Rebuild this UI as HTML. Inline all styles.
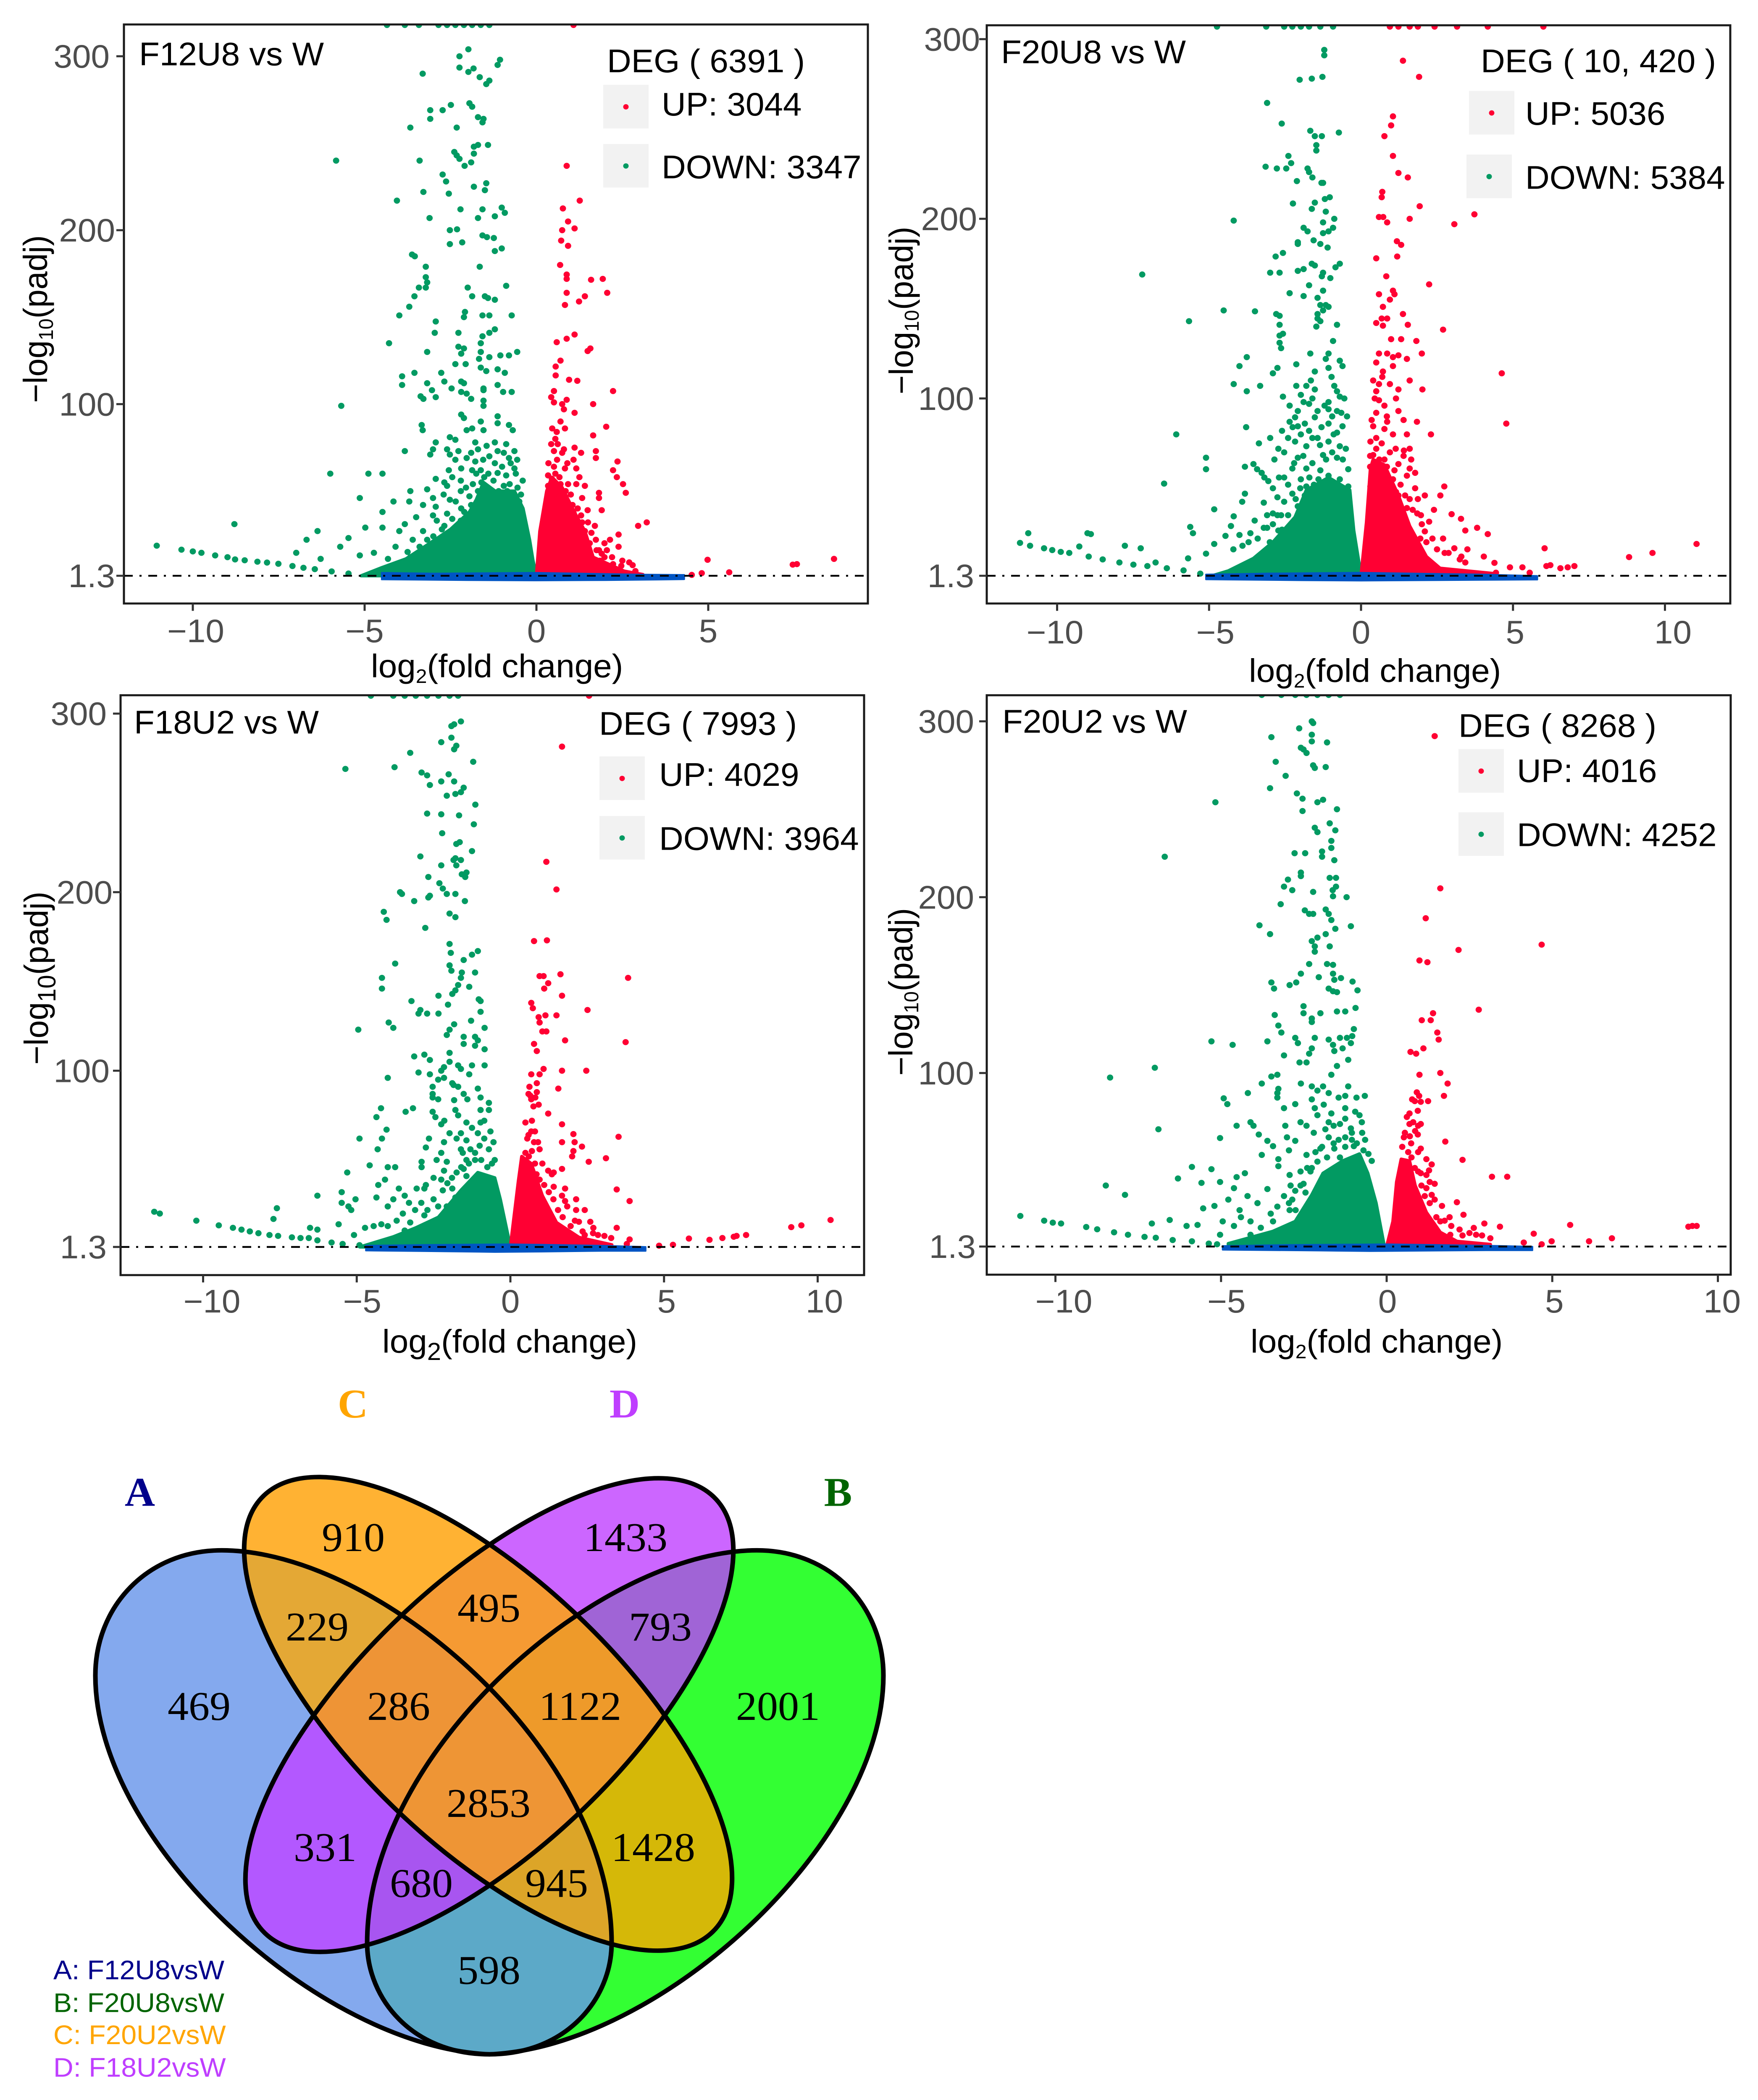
<!DOCTYPE html>
<html lang="en">
<head>
<meta charset="utf-8">
<title>Volcano plots and Venn diagram of DEGs</title>
<style>
html,body{margin:0;padding:0;background:#fff;}
svg{display:block;width:4185px;height:clamp(4500px,100vh,5150px);}
text{font-family:"Liberation Sans",sans-serif;}
.venn-n{font-family:"Liberation Serif",serif;font-size:100px;text-anchor:middle;fill:#000;}
.venn-l{font-family:"Liberation Serif",serif;font-size:100px;font-weight:bold;text-anchor:middle;}
.venn-k{font-size:66px;}
</style>
</head>
<body>
<svg id="figure" xmlns="http://www.w3.org/2000/svg" width="4185" height="5150" viewBox="0 0 4185 5150" preserveAspectRatio="none">
<rect width="4185" height="5150" fill="#fff"/>
<defs>
<path id="vA" d="M1165 5038C760 5020 227 4520 227 4109C227 3940 350 3802 528 3802C900 3802 1456 4290 1456 4765C1456 4900 1350 5038 1165 5038Z"/>
<path id="vB" d="M1165 5038C1570 5020 2103 4520 2103 4109C2103 3940 1980 3802 1802 3802C1430 3802 874 4290 874 4765C874 4900 980 5038 1165 5038Z"/>
<ellipse id="vC" cx="1162" cy="4203" rx="756" ry="321" transform="rotate(45 1162 4203)"/>
<ellipse id="vD" cx="1165" cy="4206" rx="756" ry="321" transform="rotate(-45 1165 4206)"/>
<clipPath id="cA"><use href="#vA"/></clipPath>
<clipPath id="cB"><use href="#vB"/></clipPath>
<clipPath id="cC"><use href="#vC"/></clipPath>
<clipPath id="cD"><use href="#vD"/></clipPath>
</defs>
<g id="panels"></g>

<g>
  <use href="#vA" fill="#84A9EE"/>
  <use href="#vB" fill="#33FF33"/>
  <use href="#vC" fill="#FFB233"/>
  <use href="#vD" fill="#CC66FF"/>
  <g clip-path="url(#cA)"><use href="#vB" fill="#5CA9C8"/></g>
  <g clip-path="url(#cA)"><use href="#vC" fill="#E4A835"/></g>
  <g clip-path="url(#cA)"><use href="#vD" fill="#B358FF"/></g>
  <g clip-path="url(#cB)"><use href="#vC" fill="#D5B808"/></g>
  <g clip-path="url(#cB)"><use href="#vD" fill="#A064D6"/></g>
  <g clip-path="url(#cC)"><use href="#vD" fill="#F59A33"/></g>
  <g clip-path="url(#cA)"><g clip-path="url(#cB)"><use href="#vC" fill="#DCA528"/></g></g>
  <g clip-path="url(#cA)"><g clip-path="url(#cB)"><use href="#vD" fill="#A855F0"/></g></g>
  <g clip-path="url(#cA)"><g clip-path="url(#cC)"><use href="#vD" fill="#EE9436"/></g></g>
  <g clip-path="url(#cB)"><g clip-path="url(#cC)"><use href="#vD" fill="#EE9A2A"/></g></g>
  <g clip-path="url(#cA)"><g clip-path="url(#cB)"><g clip-path="url(#cC)"><use href="#vD" fill="#EE9535"/></g></g></g>
  <g fill="none" stroke="#000" stroke-width="11">
    <use href="#vA"/><use href="#vB"/><use href="#vC"/><use href="#vD"/>
  </g>
  <text class="venn-n" x="841" y="3804">910</text>
  <text class="venn-n" x="1489" y="3804">1433</text>
  <text class="venn-n" x="755" y="4023">229</text>
  <text class="venn-n" x="1164" y="3977">495</text>
  <text class="venn-n" x="1572" y="4023">793</text>
  <text class="venn-n" x="474" y="4218">469</text>
  <text class="venn-n" x="949" y="4218">286</text>
  <text class="venn-n" x="1381" y="4218">1122</text>
  <text class="venn-n" x="1852" y="4218">2001</text>
  <text class="venn-n" x="1163" y="4456">2853</text>
  <text class="venn-n" x="774" y="4564">331</text>
  <text class="venn-n" x="1555" y="4564">1428</text>
  <text class="venn-n" x="1003" y="4652">680</text>
  <text class="venn-n" x="1325" y="4652">945</text>
  <text class="venn-n" x="1164" y="4865">598</text>
  <text class="venn-l" x="333" y="3693" fill="#00008B">A</text>
  <text class="venn-l" x="1995" y="3693" fill="#006400">B</text>
  <text class="venn-l" x="840" y="3476" fill="#FFA500">C</text>
  <text class="venn-l" x="1487" y="3476" fill="#BF3EFF">D</text>
  <text class="venn-k" x="127" y="4854" fill="#00008B">A: F12U8vsW</text>
  <text class="venn-k" x="127" y="4934" fill="#006400">B: F20U8vsW</text>
  <text class="venn-k" x="127" y="5013" fill="#FFA500">C: F20U2vsW</text>
  <text class="venn-k" x="127" y="5093" fill="#BF3EFF">D: F18U2vsW</text>
</g>
</svg>

<script>
// ---------- shared axis tick values ----------
const xTicksShort = [-10, -5, 0, 5];
const xTicksLong = [-10, -5, 0, 5, 10];
const yTicks = [1.3, 100, 200, 300];
const yTickLabels = ["1.3", "100", "200", "300"];

// ---------- F12U8 vs W ----------
const f12u8Down = [[-4.35,318],[-3.83,318],[-3.42,318],[-2.85,318],[-2.6,318],[-2.36,318],[-2.11,318],[-1.87,318],[-1.62,318],[-1.37,318],
[-1.98,304],[-2.24,300],[-1.06,298],[-1.13,295],[-2.24,293.5],[-1.83,293],[-1.98,291],[-3.31,290],[-1.65,288],[-1.37,286],[-1.46,284],[-3.09,269],[-2.49,272],[-2.73,269],[-1.95,273],[-1.87,271],[-1.7,265],[-1.54,264],[-3.09,264],[-1.57,262],[-3.67,259],[-2.32,259],[-1.7,249],[-1.41,249],[-1.82,248],[-2.39,245],[-2.32,243],[-1.82,244],[-2.24,241],[-3.4,240],[-5.83,240],[-1.9,239],[-2.09,237],[-2.73,232],[-2.63,228],[-1.46,227],[-1.82,225],[-1.5,223],[-3.29,222],[-2.55,221],[-4.06,217],[-2.21,212],[-1.57,212],[-1.01,213],[-.92,210],[-1.21,208],[-1.7,207],[-3.11,207],[-2.52,200],[-2.31,200.5],[-1.57,197],[-1.44,196],[-1.24,195.5],[-2.16,193],[-2.52,192],[-1.01,189.5],[-1.21,188],[-3.62,186],[-3.54,185],[-1.65,179],[-3.22,179],[-3.22,173],[-3.18,170],[-3.42,167],[-3.22,167],[-2,167],[-.88,168],[-1.87,162],[-1.5,162],[-1.41,161],[-1.21,160],[-3.55,162],[-3.7,156],[-3.99,151],[-2.08,153],[-2.11,150],[-1.57,151],[-1.37,151],[-.72,151],[-2.93,147.5],[-2.96,141],[-2.27,141],[-1.21,143],[-1.37,141],[-1.57,139],[-4.29,135],[-1.62,135],[-2.27,133],[-2.11,132],[-3.18,130],[-1.62,130],[-2.19,129],[-.56,130],[-.8,128],[-1.05,128],[-2.36,123],[-2.06,123],[-1.67,126],[-1.37,127],[-1.46,119],[-1.13,120],[-1.62,121],[-.92,118],[-3.91,116],[-3.55,118],[-2.77,118],[-3.18,112],[-3.91,111],[-2.68,113],[-2.19,113],[-2.11,112],[-1.54,109],[-1.13,111],[-2.47,109],[-3.04,108],[-2.19,107],[-2.03,106],[-1.54,108],[-.97,107],[-.72,107],[-3.37,104.5],[-3.29,103],[-2.93,104],[-1.9,103],[-1.54,102],[-5.68,99],[-1.54,99],
[-2.19,94],[-2.11,92],[-1.13,93],[-3.34,88],[-3.31,85],[-1.62,90],[-1.13,89],[-.8,88],[-.69,85],[-1.54,85],[-2.03,85],[-1.87,86],[-2.52,81],[-2.93,78],[-2.36,79.5],[-1.78,78],[-1.21,78],[-.88,77],[-3.01,74],[-2.6,74],[-2.27,73],[-1.7,74],[-1.13,73],[-.64,73],[-3.83,73],[-3.09,71],[-2.52,71],[-2.03,69],[-1.37,70],[-.8,69],[-.56,68],[-2.36,68],[-1.78,67],[-1.21,66],[-.64,63],[-2.19,63],[-1.62,62],[-1.13,60.4],[-.88,59],[-1.87,62],[-4.89,60],[-4.48,60],[-6,60],[-2.93,57],[-2.68,55],[-3.18,51],[-2.6,53],[-3.67,50],[-3.01,46],[-5.14,46],[-4.16,44],[-3.7,44],[-2.93,41],[-2.52,45],[-4.48,38],[-2.19,40],[-3.01,36],[-3.5,35],[-3.99,27],[-4.48,29],[-4.98,29],[-8.79,31],[-6.37,27],[-5.47,23],[-6.69,22],[-5.71,18],[-3.83,31],[-2.68,30],[-2.52,26],[-3.18,22],[-2.85,17],[-4.73,14.5],[-5.14,13],[-6.99,14.5],[-6.28,11],[-4.32,11],[-3.67,12],[-3.34,13],
[-1.52,58],[-1.6,55],[-1.45,52],[-1.7,50],[-1.35,48],[-1.55,46],[-.78,54],[-.85,50],[-.7,48],[-1,46],[-.45,48],[-.5,44],[-.9,44],[-1.15,42],[-1.4,40],[-1.9,42],[-2.1,38],[-1.7,36],[-.6,36],
[-2.9,33],[-2.75,28],[-2.6,37],[-2.45,34],[-2.3,29],[-2.2,33],[-2.05,28],[-1.95,36],[-1.85,31],[-1.75,27],[-2.65,22],[-2.4,21],[-2.25,24],[-2,20],[-3.3,27],[-3.4,18],[-3.6,22],[-3.1,14],[-3.75,15],[-4.1,18],[-1.95,47],[-2.2,50],[-2.35,44],[-2.05,52],[-1.85,54],[-1.65,44],[-1.5,40],[-1.3,44],[-1.1,50],[-.95,53],[-.75,42],[-.55,52],[-.4,56],[-.6,60],[-1.25,56],[-1.4,60],[-1.75,60],[-2.45,58],[-2.2,56],[-1,64],[-.75,66],[-1.55,68],[-2.55,62],[-1.9,72],[-1.45,76],[-.95,72],[-2.7,48],[-3.3,42],[-3,24],[-2.8,20],
[-11.05,18.6],[-10.33,16.3],[-10,15.3],[-9.75,14.5],[-9.35,13],[-8.99,12],[-8.77,10.7],[-8.49,10.2],[-8.12,9.4],[-7.84,8.9],[-7.51,8.2],[-7.1,6.9],[-6.78,5.9],[-6.45,5.1],[-5.96,3.8],[-5.47,2.6]];
const f12u8Up = [[1.08,318],[.88,237],[1.26,217],[.77,212.5],[.92,205],[1.11,201],[.75,200],[.72,194],[.92,191],[.69,180],[.88,174.5],[.88,172],[1.59,171.5],[1.93,172],[1.41,162],[2.06,164],[.88,164],[1.24,159],[.83,157],[1.11,140],[.88,137.6],[.59,135.6],[1.49,130.5],[1.57,132],[.56,121.6],[.7,125],[.56,116.5],[.95,114],[1.19,113.4],[2.23,107.5],[.51,107.5],[.43,104],[.51,101],[.75,100],[.88,102.5],[.8,97],[1.65,100],[1.11,95],[2.03,87],[.46,86],[.83,86],[.59,84],[1.65,82],[.43,77],[.62,77],[1.11,75],[.51,73],[1.73,73],[.75,72],[1.08,68],[1.73,69],[2.36,67],[2.23,62],[.51,64],[.83,63],[1.16,63],[2.34,58],[2.52,54],[2.6,49],[.34,59],[.67,58],[.92,54],[1.16,54],[1.41,53],[1.82,49],[1.82,46],[.34,53],[.59,50],[1,48],[1.33,46],[.75,45],[1.49,39],[1.9,39],[1.08,37.5],[1.33,32],[3.21,32],[2.96,30],[2.39,25],[1.98,20],[1.73,22],[1.41,27],[2.14,22],[2.39,18],[1.82,16],[1.41,17],[1.57,12],[1.98,12],[2.47,7],[2.8,7.4],[2.88,4],[2.23,8],[8.66,11],[7.58,8],[7.46,7.7],[5.61,3.3],[4.98,10.5],[4.81,2.8],[4.52,1.8],
[.3,45],[.4,50],[.5,48],[.6,45],[.7,47],[.45,57],[.55,60],[.7,54],[.85,50],[.9,44],[1.05,42],[1.2,40],[1.3,36],[.95,33],[1.1,30],[1.25,26],[1.5,32],[1.6,26],[1.7,30],[1.55,20],[1.75,16],[1.9,14],[2.05,16],[1.3,20],[1.45,14],[2.2,12],[2.5,10],[2.7,9],[1.85,10],[.35,66],[.6,68],[.8,74],[.9,66],[1.25,58],[1.3,72],[.55,80],[.7,90]];
const f12u8DownDense = [[0,1.3],[-.1,10],[-.2,22],[-.39,40],[-.64,50],[-1.2,50],[-1.54,55],[-1.75,45],[-1.95,38],[-2.5,28],[-3.18,19],[-3.8,11],[-4.5,6],[-5.1,1.3]];
const f12u8UpDense = [[0,1.3],[.1,27],[.3,50],[.45,58],[.75,52],[1.1,38],[1.41,27],[1.65,12],[2.55,4],[3.1,2],[3.1,1.3]];
const f12u8NsBand = [[-4.5,3],[-4.5,-.8],[-2,-1.2],[0,-1.4],[2,-1.2],[3.5,-.9],[4.3,-.7],[4.3,1.8],[3,2],[0,3],[-3,2.6]];

// ---------- F20U8 vs W ----------
const f20u8Down = [[-4.74,307],[-3.12,307],[-2.53,307],[-2.26,307],[-1.98,307],[-1.71,307],[-1.34,307],[-.92,307],
[-1.21,294],[-1.21,291],[-1.27,279],[-1.62,278],[-2.02,277.4],[-3.09,264.5],[-2.61,253],[-1.67,249],[-1.52,246],[-1.29,246],[-.73,248],[-1.47,241],[-1.47,238],[-2.39,235],[-2.3,231],[-3.14,229],[-2.77,228],[-2.46,228],[-1.76,228],[-1.71,226],[-1.6,223],[-2.11,221],[-1.3,220],[-1.25,220],[-1.19,211],[-1.03,212],[-1.52,209],[-1.62,205.5],[-2.24,208.5],[-1.16,204],[-.88,200],[-4.19,199],[-1.25,198],[-.92,195],[-1.89,195],[-1.76,193],[-1.07,193],[-1.25,192],[-2.08,187],[-2.08,186],[-1.56,188],[-1.34,186],[-1.1,184],[-2.57,181],[-2.81,179],[-1.62,175],[-1.52,174],[-.7,175],[-.84,173],[-2.08,171],[-1.89,172],[-2.99,170],[-2.68,170],[-1.25,170],[-1.29,168],[-1.01,167],[-7.2,169],[-1.71,163],[-1.25,160],[-2.35,158.6],[-1.89,157],[-1.43,156],[-1.34,152],[-1.16,152],[-1.07,151],[-4.52,149],[-3.49,148.5],[-2.79,147],[-2.68,146],[-1.43,147],[-1.25,149],[-1.43,144.5],[-1.34,143],[-5.66,143],[-2.68,141],[-1.47,140],[-.79,141],[-2.68,135],[-2.57,136],[-.92,132],[-2.68,131],[-2.63,128],[-1.67,125],[-1.07,125],[-1.16,122],[-.7,121],[-.61,118],[-3.76,123],[-4,118],[-2.13,119],[-2.75,117],[-2.9,114],[-1.52,115],[-1.07,117],[-.97,112],[-1.65,110],[-1.8,107],[-4.19,108],[-3.32,107],[-2.13,107],[-.88,107],[-3.76,104],[-.79,104],[-2.57,101],[-1.52,105],[-1.98,102],[-.7,101],[-1.89,98],[-1.71,97],[-1.07,98],[-1.43,93],[-2.08,93],[-1.07,94],[-.79,93],[-.46,90],[-2.17,89.5],[-1.52,89.5],[-2.35,87],[-2.08,84.5],[-1.07,86],[-.61,84.5],[-3.78,84],[-1.71,82],[-.79,81],[-6.08,80],[-2.99,78],[-1.98,80],[-1.43,78],[-1.07,76],[-2.17,76],[-3.36,75],[-2.72,72],[-1.8,73.4],[-.7,73.4],[-5.1,67],[-2.53,70],[-2.08,67],[-1.25,68.5],[-.79,67],[-5.1,60.6],[-3.82,62],[-3.54,63.5],[-3.42,60.6],[-3.27,58.6],[-2.26,61],[-1.8,61],[-1.34,60],[-.42,60.6],[-6.48,52.6],[-3.18,56],[-2.53,56],[-1.98,55],[-1.07,57],[-.7,55],[-.42,51],[-1.8,51],[-2.26,47],[-1.52,46],[-3.82,47],[-3.91,42.5],[-2.75,45],[-2.53,42.5],[-4.83,38.3],[-2.9,36],[-2.63,35],[-2.08,40],[-4.19,34.4],[-3.09,35],[-4.28,29],[-5.62,28.5],[-5.53,25],[-3.09,28],[-3.64,25],[-4,24],[-4.46,23.5],[-2.72,26.5],[-4.83,19],[-10.95,25],[-9,25],[-8.89,24.5],[-9.27,17.6],[-7.77,18],[-7.25,16.6],[-5.1,13.6],[-5.69,11],[-6.76,8.7],
[-3.4,22],[-3.2,28],[-3,20],[-2.9,30],[-2.75,35],[-2.6,27],[-2.4,35],[-2.3,30],[-2.15,44],[-2,50],[-1.85,46],[-1.7,56],[-1.55,52],[-1.4,55],[-1.2,52],[-1,50],[-.85,48],[-.65,46],[-.5,44],[-2.4,52],[-2.7,56],[-2.9,50],[-3.2,42],[-3.5,32],[-3.7,20],[-3.9,18],[-4.2,16],[-1.6,64],[-1.9,68],[-2.2,64],[-1.15,66],[-.95,70],[-.6,66],[-.5,72],[-1.35,74],[-1.6,78],[-2.4,78],[-2.25,84],[-1.85,86],[-1.3,84],[-.9,80],[-.65,92],[-1.2,96],[-1.6,100],[-2.35,96],[-2.6,82],[-2.85,66],[-3.05,54],[-.95,90],[-.55,100],
[-11.22,19.6],[-10.89,18],[-10.43,16.6],[-10.16,15.6],[-9.88,14.6],[-9.6,14],[-8.96,12],[-8.5,10.4],[-7.95,8.7],[-7.49,7.5],[-7.03,6.7],[-6.39,5.5],[-5.84,4.3],[-5.29,2.5]];
const f20u8Up = [[.95,307],[1.23,307],[1.6,307],[1.87,307],[2.42,307],[3.16,307],[4.17,307],[6,307],
[1.38,288],[1.91,279],[1.05,257],[.99,252],[.77,246],[1.05,235],[1.23,225.5],[1.54,223],[.7,215],[.68,212],[1.93,207],[3.73,202.5],[.59,201],[.73,201],[.86,198],[1.6,200],[3.07,197],[1.18,187.5],[1.32,185.5],[.5,178],[1.19,179],[.83,168],[2.24,163.5],[.59,158],[1.05,160],[1.1,158],[.95,155],[.72,151],[1.38,147],[.68,144.5],[.5,142],[.72,140.5],[1.54,141],[.86,144.5],[2.7,138.3],[.99,133],[1.32,133],[1.82,132],[.59,125],[.86,125],[1.05,123],[1.23,124],[2,125],[1.51,122],[.5,120],[1.05,118],[.72,115],[4.63,114],[1.6,110],[.59,108],[.5,104],[1.23,105],[2.02,105],[.59,99],[.77,96],[1.23,93],[.5,92],[1.84,87],[.86,87],[4.78,86],[.4,84.5],[.77,83],[1.05,80],[1.51,80],[2.3,80],[.5,78],[.31,76],[.68,75],[1.14,72],[1.41,71],[.4,68.5],[.77,66],[1.23,63.5],[1.6,61],[.4,57],[.68,58.6],[1.51,57],[1.78,58.6],[1.05,55],[2.74,51],[1.78,50],[.68,50],[1.23,46],[2.61,46],[1.87,44],[.31,51],[1.51,39],[2.98,35.6],[1.97,35],[3.29,33],[3.43,26.5],[3.82,28],[4.17,24.5],[2.24,31.4],[2.7,22],[1.69,24],[2.15,20],[3.07,16.6],[2.88,14],[4.04,12],[6.04,16.6],[8.82,11.7],[9.59,14],[11.04,19],[6.1,6.7],[6.23,7.2],[6.56,5.5],[6.8,6],[7.02,6.7],[4.39,8.5],[3.43,8.7],[4.9,6],[5.31,6],[5.55,3],[3.25,10.4],[4.44,3],
[.3,62],[.45,64],[.6,66],[.85,62],[.5,72],[.95,70],[.3,68],[1.1,60],[1.3,52],[1.45,46],[1.6,44],[.9,52],[1.15,48],[1.7,38],[1.85,36],[2,30],[2.1,26],[1.95,22],[2.35,22],[2.5,16],[2.75,14],[3.3,12],[3.5,16],[1.4,68],[1.6,72],[.85,90],[1.4,88],[1.15,100],[.35,88],[.45,100],[.95,108],[.7,112],[.4,110],[1.65,66],[2.1,46],[2.4,38]];
const f20u8DownDense = [[0,1.3],[-.24,26.5],[-.37,49],[-1.07,56],[-1.8,49],[-2.17,34],[-2.9,20],[-3.54,11],[-4.37,4],[-4.9,1.3]];
const f20u8UpDense = [[0,1.3],[.18,31],[.31,61],[.4,66],[.77,63],[1.23,46],[1.6,29],[2.15,12],[2.6,5.5],[4.4,2.5],[4.4,1.3]];
const f20u8NsBand = [[-5.1,2],[-5.1,-.7],[-2,-1.2],[0,-1.4],[2,-1.2],[4,-1],[5.8,-.8],[5.8,1.2],[4,2],[0,3],[-3,2.6]];

// ---------- F18U2 vs W ----------
const f18u2Down = [[-4.54,310],[-3.81,310],[-3.44,310],[-3.08,310],[-2.71,310],[-2.34,310],[-1.98,310],[-1.7,310],
[-1.61,295.6],[-1.83,294],[-1.92,293],[-1.92,286.5],[-2.25,284],[-1.76,282],[-1.83,280],[-3.26,278],[-1.21,273],[-5.37,269],[-3.77,270],[-2.89,267],[-2.71,265.4],[-2.01,266],[-1.83,262],[-2.62,260],[-2.25,262],[-1.52,258.5],[-1.61,256],[-1.79,255],[-2.07,254],[-1.14,249],[-2.71,244],[-2.25,243.6],[-1.67,243],[-1.19,238],[-2.22,233],[-1.65,228],[-1.76,227],[-1.25,223],[-2.93,220],[-1.79,219],[-1.61,218],[-1.85,218],[-2.25,215],[-1.76,215],[-2.67,208.5],[-1.43,211],[-1.58,210],[-1.47,208.5],[-2.31,205],[-2.2,202],[-3.59,200],[-3.53,199],[-2.62,198],[-2.67,197],[-3.13,195],[-2.07,199],[-1.79,199],[-1.48,195],[-4.12,189],[-4.03,184.5],[-1.98,188],[-1.79,186],[-2.77,180],[-1.98,171],[-1.06,167],[-1.25,165],[-1.94,166],[-1.52,162],[-3.75,160],[-1.98,159],[-1.92,156],[-4.18,152],[-1.58,155],[-1.61,152],[-1.15,155],[-4.18,146],[-1.7,148],[-1.34,147],[-1.79,145],[-1.89,143],[-2.34,142],[-1.03,140],[-.97,139],[-3.22,139],[-2.03,137],[-2.93,134],[-2.99,132],[-2.71,132],[-2.34,132],[-.97,133],[-1.28,128],[-3.96,127],[-3.81,124],[-1.83,126],[-1.98,123],[-2.07,120],[-.84,124],[-4.95,123],[-1.15,119],[-1.52,119],[-1.06,117],[-1.52,115],[-1.15,114],[-.84,112],[-1.98,110],[-3.13,108],[-2.8,109],[-2.62,106],[-1.98,105],[-1.7,103],[-1.25,103],[-.84,103],[-2.16,102],[-2.99,99],[-2.62,98],[-2.25,100],[-1.61,101],[-1.34,98],[-3.99,96],[-2.16,96],[-1.89,93],[-2.53,91],[-1.7,91],[-1.06,90],[-2.53,87],[-1.52,87],[-.97,85],[-2.53,85],[-1.83,83.5],[-.7,82],[-4.21,79],[-3.41,77],[-3.17,79],[-2.53,77],[-1.79,78],[-.97,78],[-.7,78],[-2.44,74],[-1.7,75],[-4.36,74],[-2.25,70],[-1.43,71],[-.97,71],[-1.98,65],[-1.61,65],[-1.06,65],[-4.03,67],[-4.18,62],[-4.91,62],[-2.16,60],[-1.43,61],[-.55,60],[-4.32,56],[-2.75,57],[-2.25,54],[-1.61,56],[-1.15,54],[-.7,56],[-2.89,49],[-2.07,49],[-1.43,50],[-.51,50],[-4.58,47],[-3.99,46],[-3.75,46],[-2.89,46],[-5.31,43],[-2.16,44],[-1.52,45],[-1.43,41],[-4.08,39],[-2.25,39],[-4.3,36],[-3.63,34],[-2.8,34],[-5.49,32],[-1.89,34],[-6.28,30],[-3.44,30],[-3.81,28],[-1.79,29],[-5.49,26],[-5.04,28],[-4.36,29],[-7.6,23],[-11.59,21],[-11.41,20],[-10.22,16],[-5.27,24],[-5.18,22],[-3.99,24],[-2.07,24],[-7.71,17],[-5.59,14],[-2.8,19],[-3.26,15],[-3.99,13],[-4.45,13],[-4.73,12],[-6.52,12],[-6.28,11],[-5.09,8],[-2.8,13],[-3.44,10.5],
[-3.1,22],[-2.9,26],[-2.7,22],[-2.5,28],[-2.35,24],[-2.2,33],[-2.05,37],[-1.9,40],[-1.75,43],[-1.6,46],[-1.35,48],[-1.15,50],[-.95,50],[-.75,46],[-.6,48],[-2.5,40],[-2.75,36],[-3.5,20],[-3.7,16],[-4.2,14],[-1.55,54],[-1.3,56],[-1,58],[-.85,62],[-.65,66],[-1.75,62],[-2.4,50],[-2.65,62],[-1.25,68],[-.85,72],[-2.15,72],[-2.35,84],[-1.4,84],[-1.85,92],[-2.35,95],[-3.05,34],[-3.3,26],
[-9.49,13.4],[-9.03,12],[-8.75,11],[-8.48,10],[-8.2,9],[-7.84,8],[-7.56,7.5],[-7.11,6.7],[-6.83,6.3],[-6.56,6.3],[-6.28,5],[-5.82,3.8],[-5.46,3],[-4.91,2.3]];
const f18u2Up = [[2.56,310],[1.68,281.5],[1.17,217],[1.5,201.5],[.77,172.6],[1.19,173],[1.63,154],[.95,153],[1.08,153],[3.83,152],[1.23,149],[1.1,146],[1.68,142],[.68,138],[.73,135],[2.51,134],[1.5,131],[1.14,131],[.92,130],[.95,127],[1.04,122],[1.17,122],[1.78,117],[3.75,116],[.77,115],[.86,111],[1.08,101],[1.68,100],[2.47,100],[.68,98],[.95,98],[.86,93],[1.56,90],[.62,91],[.86,88],[.59,87],[.81,85],[.68,84],[.92,81],[1.23,76],[.49,71],[1.68,70],[.68,66],[.59,64],[2.05,64.5],[3.52,63],[.77,60],[1.68,60],[2.09,60],[2.33,57.5],[.95,56],[2.05,55],[2.01,52],[.49,54],[3.11,51],[2.55,49],[1.04,48],[1.68,45],[1.23,44],[1.41,43],[.95,39],[3.46,33.5],[1.41,35],[1.78,34],[2.14,28],[3.88,27],[1.78,27],[1.68,30],[2.42,22],[2.14,22],[2.23,15.4],[2.6,15.4],[3.46,12],[1.96,13],[2.42,8],[2.69,9],[3.06,7.5],[3.28,6.3],[3.88,5.5],[3.79,3],[10.42,16.4],[9.47,13.4],[9.14,12.4],[7.67,8],[7.36,7.5],[7.27,7],[6.9,6.3],[6.48,5.3],[5.81,6],[5.29,2.5],[4.84,2],
[.4,45],[.5,40],[.6,52],[.7,55],[.8,48],[.85,42],[.55,62],[.7,72],[.8,66],[1.1,36],[1.25,32],[1.4,28],[1.55,22],[1.85,24],[1.7,18],[2.1,16],[2.35,10],[2.7,12],[2.85,8],[1.9,9],[1.35,42],[.9,60],[.75,80],[.65,86]];
const f18u2DownDense = [[0,1.3],[-.33,28],[-.51,40],[-1.06,43],[-1.61,33],[-2.34,18],[-3.08,12],[-3.81,7],[-4.9,1.3]];
const f18u2UpDense = [[0,1.3],[.26,38],[.37,52],[.68,48],[1.04,30],[1.5,15],[2.23,6.7],[3.3,2.5],[3.3,1.3]];
const f18u2NsBand = [[-4.7,2],[-4.7,-.7],[-2,-1.2],[-.5,-1.5],[1,-1.3],[3,-.9],[4.4,-.9],[4.4,1.3],[3,2],[0,2.8],[-3,2.4]];

// ---------- F20U2 vs W ----------
const f20u2Down = [[-3.77,315],[-3.18,315],[-2.76,315],[-2.42,315],[-2.09,315],[-1.75,315],[-1.41,315],
[-2.26,300],[-2.22,299],[-2.64,296],[-2.26,292.4],[-3.48,291],[-2.26,288.6],[-1.8,288],[-2.59,285],[-2.51,284],[-2.42,282],[-3.35,277],[-2.22,275],[-2.17,273.5],[-1.84,274],[-3.05,269],[-3.52,262],[-5.17,254],[-2.71,259],[-2.54,256],[-1.92,255.4],[-2.09,254],[-2.54,249],[-1.5,250],[-1.72,242],[-2.17,239.5],[-2.09,237],[-1.55,238],[-1.67,232],[-1.67,228],[-2.78,225],[-2.46,225],[-1.95,226],[-1.95,223],[-6.7,223],[-1.58,221],[-2.59,214],[-2.59,212],[-2.98,210],[-1.53,211],[-1.72,211],[-3.1,206],[-2.85,204],[-2.22,203],[-1.53,206],[-1.63,204],[-1.62,200.5],[-1.21,200],[-3.2,196],[-2.47,192.5],[-1.84,193],[-2.22,190.5],[-2.34,190.5],[-1.75,190.5],[-1.67,187],[-3.84,184],[-1.08,183.5],[-1.55,182],[-3.52,179],[-1.84,179],[-2.09,177],[-2.26,175],[-1.72,172],[-2.17,172],[-2.17,169],[-2.34,162],[-1.8,162],[-1.62,161.5],[-2.59,156.5],[-2.05,154.5],[-1.62,156.5],[-1.58,153],[-1.38,154],[-1.03,152],[-3.48,151.5],[-3.4,148],[-2.93,150],[-2.73,151.5],[-.88,147],[-1.75,148],[-1.62,146.5],[-1.5,146],[-2.51,138],[-3.38,133],[-2,134],[-2.51,134],[-2.26,131],[-1.25,135],[-.94,137],[-1.5,135],[-2.26,129],[-3.27,127],[-.99,125],[-3.18,123],[-2.76,120],[-1.75,119],[-2.17,120],[-1.41,120],[-1.2,120],[-1.04,121],[-3.6,118],[-4.65,116],[-5.29,118],[-2.68,117],[-1.62,116],[-1.08,117],[-2.26,114],[-2.34,111],[-1.58,112.5],[-1.33,114],[-3.1,110],[-2.42,106],[-2.63,106],[-1.16,107.5],[-1.5,104],[-7,103],[-3.48,98],[-3.3,99],[-1.67,99],[-8.35,97.4],[-3.77,94],[-2.59,94],[-1.92,92.4],[-2.26,92.4],[-3.27,91],[-3.3,88.6],[-1.16,92.4],[-2.09,90],[-4.19,88.6],[-.66,87],[-.91,86],[-1.25,87],[-1.75,88.6],[-3.3,86],[-2.26,85],[-2.76,82.3],[-4.92,85.6],[-4.81,82.3],[-3.1,80],[-2.17,80],[-1.25,80],[-4.11,72],[-4.53,70],[-6.89,68],[-2.09,76],[-1.67,77],[-.82,76],[-2.42,70],[-1.75,72],[-1.41,71],[-1.08,68.5],[-4.02,70],[-3.06,70],[-5.03,63],[-3.86,65],[-3.01,63.4],[-2.76,61.4],[-3.6,61.4],[-1.75,63.4],[-1.25,63.4],[-.74,66],[-3.43,58.4],[-2,57],[-1.58,57],[-.99,58.4],[-3.77,53.4],[-2.42,53.4],[-3.27,51],[-3.27,47],[-2.09,49.6],[-1.41,52],[-5.88,46.6],[-5.29,45.3],[-2.26,46],[-4.28,43],[-4.53,40.8],[-6.3,40],[-5.03,38],[-5.59,37.5],[-2.93,42],[-2.51,37],[-8.48,36],[-7.9,30.7],[-4.61,34.5],[-2.76,33],[-2.85,28],[-4.78,28],[-5.2,24.4],[-5.54,23],[-4.44,22],[-2.93,22],[-6.55,16.4],[-7.09,14.4],[-6.04,13],[-5.71,13.6],[-4.11,15.6],[-3.43,15.6],[-4.95,15.6],[-4.61,13],[-5.03,8],[-4.11,8],
[-3.5,20],[-3.3,24],[-3.1,30],[-2.95,26],[-2.75,22],[-2.6,36],[-2.45,32],[-2.3,44],[-2.15,55],[-1.95,58],[-1.8,52],[-1.6,60],[-1.45,62],[-1.25,58],[-1.05,62],[-.9,60],[-.7,56],[-.55,54],[-.45,50],[-2.4,46],[-2.6,44],[-2.9,36],[-3.6,34],[-3.9,26],[-4.2,30],[-4.4,18],[-3.8,12],[-1.6,70],[-1.25,74],[-.95,78],[-.75,72],[-1.9,82],[-1.45,86],[-2.6,72],[-2.95,56],[-2.2,66],[-1.85,68],[-1.05,66],[-.65,62],
[-11.06,18.7],[-10.34,16],[-10.08,14.9],[-9.83,14.4],[-9.07,12.4],[-8.74,11.1],[-8.23,9.4],[-7.81,8],[-7.31,6.8],[-6.97,6.3],[-6.46,5],[-5.88,4.3],[-5.37,3],[-5.12,2.6]];
const f20u2Up = [[1.45,291.6],[1.62,205],[1.18,188],[4.68,173],[2.17,170],[.99,164],[1.23,163],[2.78,136],[1.4,134],[1.06,130],[1.33,130],[1.53,123],[1.57,119],[1.11,114],[.72,112],[.89,111],[1.62,100],[.99,99],[1.84,94],[.91,89],[.98,87],[1.73,87],[.77,85],[1.03,83.6],[1.25,84],[.69,77],[.61,75],[.94,78.5],[1.03,71],[.69,71],[.86,67],[.94,65],[.52,63.4],[1.77,61],[.74,60],[1.03,57],[.47,58],[1.2,51],[2.29,50.6],[1.36,48],[3.18,41],[3.64,41],[1.28,44.6],[1.03,43],[1.45,37],[1.2,34.5],[2.12,26.5],[1.36,30.7],[1.67,24.4],[1.62,15.6],[2.32,19.4],[2.95,14.4],[2.63,11.9],[3.42,12.6],[5.54,13.6],[4.44,8.6],[4.98,4.3],[6.11,4.3],[6.8,6],[9.11,12.6],[9.23,13],[9.36,13],[4.14,3.6],[4.68,2.6],[3.13,6],[2.88,7.6],[2.29,7.6],[1.92,8],
[.45,45],[.55,48],[.65,55],[.75,52],[.85,46],[.95,44],[.55,66],[.7,64],[.8,72],[.95,55],[1.05,36],[1.15,30],[1.3,26],[1.45,28],[1.5,18],[1.75,16],[1.9,18],[2.2,11],[2.5,9],[2.7,8],[1.95,13],[1.3,38],[1.2,42],[.85,84],[.95,70]];
const f20u2DownDense = [[-.07,1.3],[-.32,26],[-.57,43],[-.82,54],[-1.33,50],[-1.92,43],[-2.26,30.7],[-2.76,15.6],[-3.43,10],[-4.78,3],[-4.78,1.3]];
const f20u2UpDense = [[0,1.3],[.19,15.6],[.3,38],[.44,51],[.69,50],[.86,36],[1.2,20.7],[1.62,9.4],[2.12,4.3],[3.13,2.5],[3.13,1.3]];
const f20u2NsBand = [[-4.95,1.6],[-4.95,-.5],[-2,-1],[-.5,-1.3],[1,-1.1],[3,-.8],[4.4,-.8],[4.4,1.2],[3,1.8],[0,2.6],[-3,2.2]];

// ---------- panel layout ----------
const panels = [
 {id:"f12u8", title:"F12U8 vs W", deg:"DEG ( 6391 )", up:"UP: 3044", down:"DOWN: 3347",
  downPts:f12u8Down, upPts:f12u8Up, downDense:f12u8DownDense, upDense:f12u8UpDense, ns:f12u8NsBand, xTicks:xTicksShort,
  frame:[295,60,2066,1480], x0:1277, kx:81.8, y13:1412, y300:138,
  titlePos:[331,160], degPos:[1445,177], key1:[1436,208], key2:[1436,353], upPos:[1575,283], downPos:[1575,437],
  xDx:[7,0,0,0], xLabelY:1575, yRight:[274,274,274,261],
  xTitle:[883,1661], yTitle:[112,988], sub:0.6},
 {id:"f20u8", title:"F20U8 vs W", deg:"DEG ( 10, 420 )", up:"UP: 5036", down:"DOWN: 5384",
  downPts:f20u8Down, upPts:f20u8Up, downDense:f20u8DownDense, upDense:f20u8UpDense, ns:f20u8NsBand, xTicks:xTicksLong,
  frame:[2349,62,4119,1480], x0:3240, kx:72.35, y13:1412, y300:96,
  titlePos:[2383,155], degPos:[3525,177], key1:[3497,223], key2:[3491,379], upPos:[3631,306], downPos:[3631,463],
  xDx:[-5,15,0,5,19], xLabelY:1578, yRight:[2319,2319,2326,2333],
  xTitle:[2973,1672], yTitle:[2173,967], sub:0.6},
 {id:"f18u2", title:"F18U2 vs W", deg:"DEG ( 7993 )", up:"UP: 4029", down:"DOWN: 3964",
  downPts:f18u2Down, upPts:f18u2Up, downDense:f18u2DownDense, upDense:f18u2UpDense, ns:f18u2NsBand, xTicks:xTicksLong,
  frame:[287,1705,2057,3127], x0:1215, kx:73.15, y13:3058, y300:1750,
  titlePos:[319,1799], degPos:[1426,1802], key1:[1427,1855], key2:[1427,2001], upPos:[1569,1927], downPos:[1569,2084],
  xDx:[21,13,0,6,16], xLabelY:3219, yRight:[254,261,268,254],
  xTitle:[910,3317], yTitle:[114,2611], sub:0.75},
 {id:"f20u2", title:"F20U2 vs W", deg:"DEG ( 8268 )", up:"UP: 4016", down:"DOWN: 4252",
  downPts:f20u2Down, upPts:f20u2Up, downDense:f20u2DownDense, upDense:f20u2UpDense, ns:f20u2NsBand, xTicks:xTicksLong,
  frame:[2349,1705,4120,3126], x0:3301, kx:78.85, y13:3057, y300:1769,
  titlePos:[2386,1797], degPos:[3472,1807], key1:[3472,1837], key2:[3472,1992], upPos:[3611,1918], downPos:[3611,2075],
  xDx:[20,13,2,5,10], xLabelY:3219, yRight:[2323,2319,2319,2319],
  xTitle:[2977,3317], yTitle:[2172,2638], sub:0.6}
];

const GREEN = "#029A62", RED = "#FF0033", BLUE = "#0055C4";
const NS = "http://www.w3.org/2000/svg";
const root = document.getElementById("panels");

function make(parent, tag, attrs, txt) {
  const e = document.createElementNS(NS, tag);
  for (const k in attrs) e.setAttribute(k, attrs[k]);
  if (txt !== undefined) e.textContent = txt;
  parent.appendChild(e);
  return e;
}

panels.forEach(function (p) {
  const xScale = v => p.x0 + v * p.kx;
  const yScale = v => p.y13 - (v - 1.3) * (p.y13 - p.y300) / 298.7;
  const polyPts = arr => arr.map(d => xScale(d[0]).toFixed(1) + "," + yScale(d[1]).toFixed(1)).join(" ");
  const [L, T, R, B] = p.frame;

  const g = make(root, "g", {});
  
  

  const clip = make(g, "clipPath", {id: "clip-" + p.id});
  make(clip, "rect", {x: L, y: T, width: R - L, height: B - T});
  const plot = make(g, "g", {"clip-path": "url(#clip-" + p.id + ")"});
  
  

  const dDense = make(plot, "polygon", {points: polyPts(p.downDense), fill: GREEN, stroke: GREEN, "stroke-width": 8, "stroke-linejoin": "round"});
  
  
  const uDense = make(plot, "polygon", {points: polyPts(p.upDense), fill: RED, stroke: RED, "stroke-width": 8, "stroke-linejoin": "round"});
  
  

  p.downPts.forEach(function (d) {
    const c = make(plot, "circle", {cx: xScale(d[0]).toFixed(1), cy: yScale(d[1]).toFixed(1), r: 7.5, fill: GREEN});
    
    
  });
  p.upPts.forEach(function (d) {
    const c = make(plot, "circle", {cx: xScale(d[0]).toFixed(1), cy: yScale(d[1]).toFixed(1), r: 7.5, fill: RED});
    
    
  });

  const band = make(plot, "polygon", {points: polyPts(p.ns), fill: BLUE, stroke: BLUE, "stroke-width": 4, "stroke-linejoin": "round"});
  
  

  const th = make(plot, "line", {x1: L, x2: R, y1: yScale(1.3), y2: yScale(1.3), stroke: "#000", "stroke-width": 4.5, "stroke-dasharray": "21 16 5 16"});
  
  

  const fr = make(g, "rect", {x: L, y: T, width: R - L, height: B - T, fill: "none", stroke: "#1a1a1a", "stroke-width": 5});
  
  

  p.xTicks.forEach(function (v, i) {
    const t = make(g, "line", {x1: xScale(v), x2: xScale(v), y1: B, y2: B + 18, stroke: "#333", "stroke-width": 5});
    
    
    const lab = make(g, "text", {x: xScale(v) + p.xDx[i], y: p.xLabelY, "font-size": 80, fill: "#4D4D4D", "text-anchor": "middle"}, v < 0 ? "\u2212" + Math.abs(v) : String(v));
    
    
  });
  yTicks.forEach(function (v, i) {
    const t = make(g, "line", {x1: L - 18, x2: L, y1: yScale(v), y2: yScale(v), stroke: "#333", "stroke-width": 5});
    
    
    const lab = make(g, "text", {x: p.yRight[i], y: yScale(v) + 28, "font-size": 80, fill: "#4D4D4D", "text-anchor": "end"}, yTickLabels[i]);
    
    
  });

  const title = make(g, "text", {x: p.titlePos[0], y: p.titlePos[1], "font-size": 80, fill: "#000"}, p.title);
  
  

  const subSize = Math.round(80 * p.sub), subDy = Math.round(subSize * 0.3);

  const xt = make(g, "text", {x: p.xTitle[0], y: p.xTitle[1], "font-size": 80, fill: "#000"});
  
  
  make(xt, "tspan", {}, "log");
  make(xt, "tspan", {"font-size": subSize, dy: subDy}, "2");
  make(xt, "tspan", {dy: -subDy}, "(fold change)");

  const yt = make(g, "text", {x: p.yTitle[0], y: p.yTitle[1], "font-size": 80, fill: "#000", transform: "rotate(-90 " + p.yTitle[0] + " " + p.yTitle[1] + ")"});
  
  
  make(yt, "tspan", {}, "\u2212log");
  make(yt, "tspan", {"font-size": subSize, dy: subDy}, "10");
  make(yt, "tspan", {dy: -subDy}, "(padj)");

  const leg = make(g, "g", {});
  
  
  const dt = make(leg, "text", {x: p.degPos[0], y: p.degPos[1], "font-size": 80, fill: "#000"}, p.deg);
  
  

  const k1 = make(leg, "rect", {x: p.key1[0], y: p.key1[1], width: 108, height: 107, fill: "#F2F2F2"});
  
  
  const d1 = make(leg, "circle", {cx: p.key1[0] + 54, cy: p.key1[1] + 54, r: 6.5, fill: RED});
  
  
  const t1 = make(leg, "text", {x: p.upPos[0], y: p.upPos[1], "font-size": 80, fill: "#000"}, p.up);
  
  

  const k2 = make(leg, "rect", {x: p.key2[0], y: p.key2[1], width: 108, height: 107, fill: "#F2F2F2"});
  
  
  const d2 = make(leg, "circle", {cx: p.key2[0] + 54, cy: p.key2[1] + 54, r: 6.5, fill: GREEN});
  
  
  const t2 = make(leg, "text", {x: p.downPos[0], y: p.downPos[1], "font-size": 80, fill: "#000"}, p.down);
  
  
});
</script>
</body>
</html>
